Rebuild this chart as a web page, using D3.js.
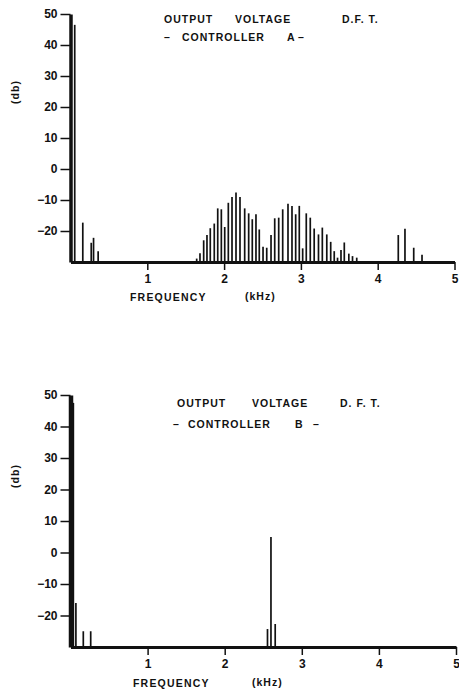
<!DOCTYPE html>
<html>
<head>
<meta charset="utf-8">
<script src="https://cdn.jsdelivr.net/npm/d3@7"></script>
<style>
  body { margin: 0; background: #fff; }
  svg text { font-family: "Liberation Sans", Arial, sans-serif; font-weight: bold; fill: #111; }
</style>
</head>
<body>
<div id="chart"></div>
<script>
const width = 459;
const height = 690;

// Controller A spectrum (kHz, dB)
const freqA = [0.055, 0.16, 0.27, 0.30, 0.36,
    1.643, 1.686, 1.734, 1.777, 1.820, 1.872, 1.917, 1.964, 2.008, 2.055,
    2.103, 2.155, 2.207, 2.268, 2.320, 2.367, 2.415, 2.458, 2.507, 2.555,
    2.611, 2.659, 2.711, 2.763, 2.832, 2.884, 2.932, 2.979, 3.023, 3.070,
    3.122, 3.173, 3.229, 3.279, 3.337, 3.388, 3.434, 3.477, 3.522, 3.565,
    3.624, 3.672, 3.727,
    4.268, 4.355, 4.469, 4.577];
const dbA = [46.5, -17.3, -23.8, -22.2, -26.5,
    -28.9, -27.2, -23.0, -21.3, -19.1, -17.6, -12.7, -13.0, -18.7, -10.9,
    -9.0, -7.6, -9.0, -12.7, -14.3, -16.2, -14.6, -19.5, -25.1, -25.4,
    -21.3, -15.9, -15.7, -13.0, -11.2, -11.9, -14.6, -11.9, -25.6, -14.3,
    -15.7, -19.2, -21.1, -18.9, -21.1, -23.5, -26.5, -28.6, -26.1, -23.7,
    -27.3, -28.1, -28.6,
    -21.3, -19.3, -25.4, -27.7];

// Controller B spectrum (kHz, dB)
const freqB = [0.037, 0.07, 0.166, 0.262, 2.555, 2.60, 2.655];
const dbB = [47.5, -16, -25, -25, -24.3, 4.9, -22.7];

const yTicks = [-20, -10, 0, 10, 20, 30, 40, 50];
const xTicks = [1, 2, 3, 4, 5];

const svg = d3.select("#chart").append("svg")
    .attr("width", width)
    .attr("height", height);

function drawPanel(cfg) {
    const x = d3.scaleLinear().domain([0, 5]).range(cfg.xRange);
    const y = d3.scaleLinear().domain([-30, 50]).range(cfg.yRange);
    const g = svg.append("g");

    // spikes
    g.selectAll("line.spike")
        .data(cfg.freq.map((f, i) => ({ f: f, v: cfg.db[i] })))
        .enter()
        .append("line")
        .attr("class", "spike")
        .attr("x1", d => x(d.f))
        .attr("x2", d => x(d.f))
        .attr("y1", y(-30))
        .attr("y2", d => y(d.v))
        .attr("stroke", "#111")
        .attr("stroke-width", 1.7);

    // y axis
    const yAxis = g.append("g")
        .attr("transform", `translate(${cfg.xRange[0]},0)`)
        .call(d3.axisLeft(y).tickValues(yTicks).tickSize(10).tickPadding(3).tickSizeOuter(0));
    yAxis.select(".domain").attr("stroke-width", cfg.axisWidth).attr("stroke", "#111");
    yAxis.selectAll(".tick line").attr("stroke-width", 1.5).attr("stroke", "#111");
    yAxis.selectAll(".tick text").style("font-size", "12px");

    // x axis
    const xAxis = g.append("g")
        .attr("transform", `translate(0,${cfg.yRange[0]})`)
        .call(d3.axisBottom(x).tickValues(xTicks).tickFormat(d3.format("d"))
            .tickSize(8).tickPadding(4).tickSizeOuter(0));
    xAxis.select(".domain").attr("stroke-width", 3).attr("stroke", "#111");
    xAxis.selectAll(".tick line").attr("stroke-width", 1.5).attr("stroke", "#111");
    xAxis.selectAll(".tick text").style("font-size", "12px");

    // titles, word by word
    [cfg.title1, cfg.title2].forEach(line => {
        g.selectAll(null)
            .data(line.words)
            .enter()
            .append("text")
            .attr("x", d => d[0])
            .attr("y", line.y)
            .style("font-size", "10.5px")
            .style("letter-spacing", "1px")
            .text(d => d[1]);
    });

    // axis labels
    g.append("text")
        .attr("transform", `translate(19,${cfg.dbY}) rotate(-90)`)
        .attr("text-anchor", "middle")
        .style("font-size", "10.5px").style("letter-spacing", "1px")
        .text("(db)");
    g.append("text")
        .attr("x", cfg.freqX).attr("y", cfg.freqY)
        .style("font-size", "10.5px").style("letter-spacing", "1.2px")
        .text("FREQUENCY");
    g.append("text")
        .attr("x", cfg.khzX).attr("y", cfg.khzY)
        .style("font-size", "10.5px").style("letter-spacing", "1px")
        .text("(kHz)");
}

drawPanel({
    freq: freqA, db: dbA,
    xRange: [70.5, 454.5], yRange: [262, 14],
    axisWidth: 3.5,
    title1: { y: 23, words: [[164, "OUTPUT"], [235, "VOLTAGE"], [342, "D.F. T."]] },
    title2: { y: 41, words: [[164, "–"], [182, "CONTROLLER"], [287, "A"], [298, "–"]] },
    dbY: 92,
    freqX: 130, freqY: 301,
    khzX: 245, khzY: 300
});

drawPanel({
    freq: freqB, db: dbB,
    xRange: [70.5, 456], yRange: [647, 395],
    axisWidth: 4.5,
    title1: { y: 407, words: [[177, "OUTPUT"], [252, "VOLTAGE"], [340, "D. F. T."]] },
    title2: { y: 428, words: [[173, "–"], [188, "CONTROLLER"], [295, "B"], [313, "–"]] },
    dbY: 476,
    freqX: 133, freqY: 687,
    khzX: 252, khzY: 686
});
</script>
</body>
</html>
